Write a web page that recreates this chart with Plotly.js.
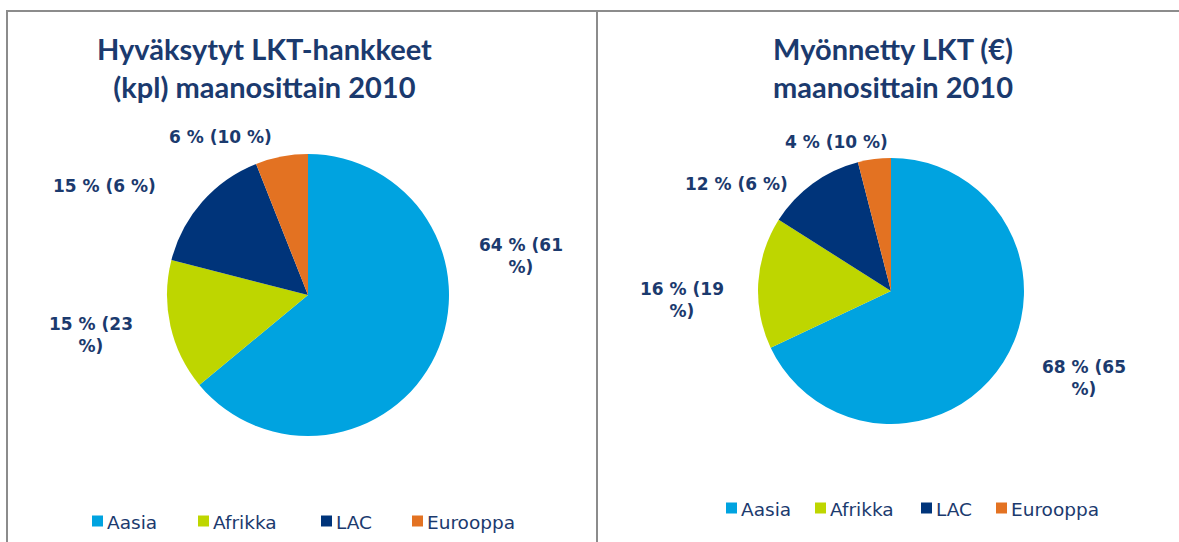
<!DOCTYPE html>
<html>
<head>
<meta charset="utf-8">
<script src="https://cdn.plot.ly/plotly-3.0.1.min.js"></script>
<style>
  html, body { margin: 0; padding: 0; background: #fff; }
  #chart { width: 1179px; height: 542px; }
</style>
</head>
<body>
<div id="chart"></div>
<script>
// categories and values
const regions = ['Aasia', 'Afrikka', 'LAC', 'Eurooppa'];
const projectShare = [64, 15, 15, 6];       // hankkeet (kpl) %
const projectShare2009 = [61, 23, 6, 10];   // value in brackets
const fundShare = [68, 16, 12, 4];          // LKT (€) %
const fundShare2009 = [65, 19, 6, 10];

const colors = ['#00A3E0', '#BED600', '#00347A', '#E37222'];
const navy = '#1B3A6E';
const titleFont = 'Lato, "Open Sans", sans-serif';
const textFont = '"DejaVu Sans", Verdana, sans-serif';

// where the data labels sit (pixels of the 1179x542 picture)
const leftLabelPos = [[521, 256], [91, 335], [104, 186], [220, 137]];
const rightLabelPos = [[1084, 378], [682, 300], [736, 184], [836, 142]];
// labels that wrap onto a second line
const leftWrap = [true, true, false, false];
const rightWrap = [true, true, false, false];

// legend rows: left edge of each swatch, and the row's middle
const leftLegendX = [92, 198, 321, 412], leftLegendY = 521;
const rightLegendX = [726, 815, 921, 996], rightLegendY = 508;

const W = 1179, H = 542;
const px = x => x / W;
const py = y => 1 - y / H;

function labelText(v, prev, wrap) {
  return wrap ? v + ' % (' + prev + '<br>%)' : v + ' % (' + prev + ' %)';
}

const pie1 = {
  type: 'pie',
  labels: regions,
  values: projectShare,
  sort: false,
  direction: 'clockwise',
  rotation: 0,
  marker: { colors: colors },
  textinfo: 'none',
  hoverinfo: 'label+percent',
  showlegend: false,
  domain: { x: [px(167), px(449)], y: [py(436), py(154)] },
};

const pie2 = {
  type: 'pie',
  labels: regions,
  values: fundShare,
  sort: false,
  direction: 'clockwise',
  rotation: 0,
  marker: { colors: colors },
  textinfo: 'none',
  hoverinfo: 'label+percent',
  showlegend: false,
  domain: { x: [px(758), px(1024)], y: [py(424), py(158)] },
};

const annotations = [];
const shapes = [];

function addLabel(pos, text) {
  annotations.push({
    xref: 'paper', yref: 'paper',
    x: px(pos[0]), y: py(pos[1]),
    xanchor: 'center', yanchor: 'middle',
    text: '<b>' + text + '</b>',
    showarrow: false, align: 'center',
    font: { family: textFont, size: 17, color: navy },
  });
}
regions.forEach((r, i) => {
  addLabel(leftLabelPos[i], labelText(projectShare[i], projectShare2009[i], leftWrap[i]));
  addLabel(rightLabelPos[i], labelText(fundShare[i], fundShare2009[i], rightWrap[i]));
});

// legends (both pies share the same labels, so they are drawn by hand)
function addLegend(xs, y) {
  const sw = 11;
  regions.forEach((r, i) => {
    shapes.push({
      type: 'rect', xref: 'paper', yref: 'paper',
      x0: px(xs[i]), x1: px(xs[i] + sw),
      y0: py(y + sw / 2), y1: py(y - sw / 2),
      fillcolor: colors[i], line: { width: 0 },
    });
    annotations.push({
      xref: 'paper', yref: 'paper',
      x: px(xs[i] + sw + 2), y: py(y + 1),
      xanchor: 'left', yanchor: 'middle',
      text: r, showarrow: false,
      font: { family: textFont, size: 18.5, color: navy },
    });
  });
}
addLegend(leftLegendX, leftLegendY);
addLegend(rightLegendX, rightLegendY);

// titles
annotations.push({
  xref: 'paper', yref: 'paper', x: px(264), y: py(67),
  xanchor: 'center', yanchor: 'middle',
  text: '<b>Hyväksytyt LKT-hankkeet<br>(kpl) maanosittain 2010</b>',
  showarrow: false, align: 'center',
  font: { family: titleFont, size: 29, color: navy },
});
annotations.push({
  xref: 'paper', yref: 'paper', x: px(893), y: py(67),
  xanchor: 'center', yanchor: 'middle',
  text: '<b>Myönnetty LKT (€)<br>maanosittain 2010</b>',
  showarrow: false, align: 'center',
  font: { family: titleFont, size: 29, color: navy },
});

const border = { color: '#8C8C8C', width: 2 };
shapes.push(
  { type: 'line', xref: 'paper', yref: 'paper', x0: px(6), x1: 1, y0: py(11), y1: py(11), line: border },
  { type: 'line', xref: 'paper', yref: 'paper', x0: px(7), x1: px(7), y0: py(11), y1: 0, line: border },
  { type: 'line', xref: 'paper', yref: 'paper', x0: px(597), x1: px(597), y0: py(11), y1: 0, line: border }
);

const layout = {
  width: W,
  height: H,
  margin: { l: 0, r: 0, t: 0, b: 0 },
  paper_bgcolor: '#ffffff',
  showlegend: false,
  annotations: annotations,
  shapes: shapes,
};

Plotly.newPlot('chart', [pie1, pie2], layout, { displayModeBar: false, staticPlot: true });
</script>
</body>
</html>
